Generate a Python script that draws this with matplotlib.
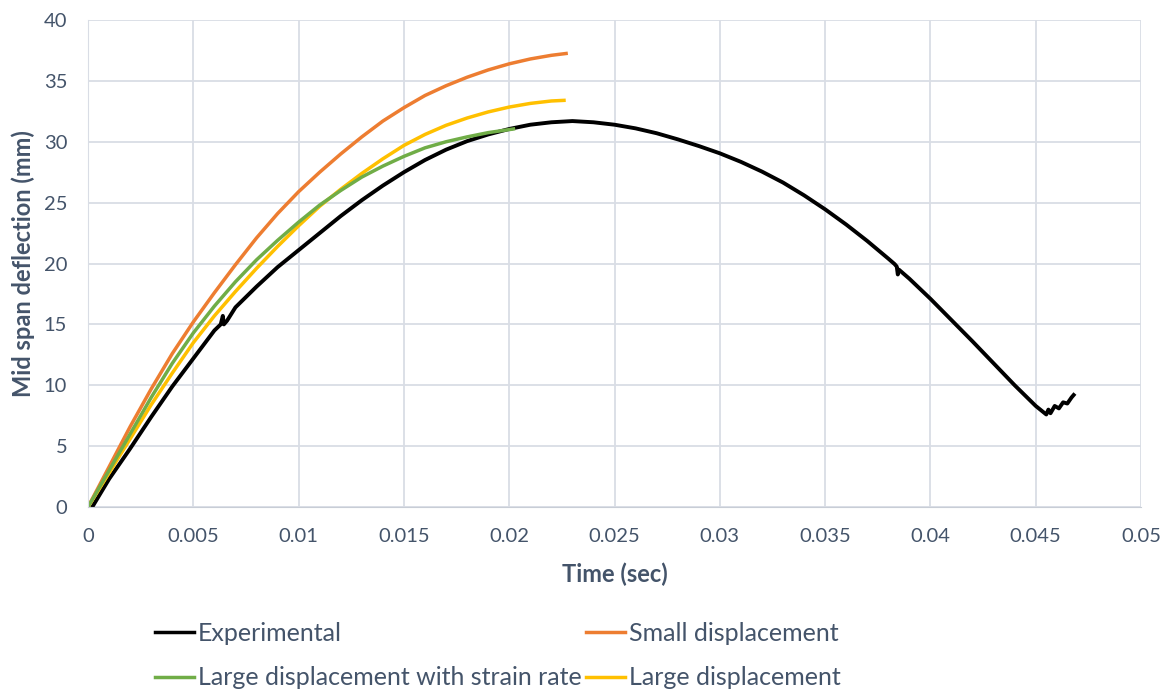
import matplotlib
matplotlib.use("Agg")
import matplotlib.pyplot as plt

# mid span deflection histories (time in s, deflection in mm)
t_exp = [0.0002, 0.001, 0.002, 0.003, 0.004, 0.005, 0.006, 0.0063, 0.0064, 0.00645,
         0.0066, 0.007, 0.008, 0.009, 0.010, 0.011, 0.012, 0.013, 0.014, 0.015,
         0.016, 0.017, 0.018, 0.019, 0.020, 0.021, 0.022, 0.023, 0.024, 0.025,
         0.026, 0.027, 0.028, 0.029, 0.030, 0.031, 0.032, 0.033, 0.034, 0.035,
         0.036, 0.037, 0.038, 0.0383, 0.0384, 0.03845, 0.0385, 0.039, 0.040, 0.041,
         0.042, 0.043, 0.044, 0.045, 0.0455, 0.0456, 0.0457, 0.0459, 0.0461, 0.0463,
         0.0465, 0.0467, 0.0468]
d_exp = [0.0, 2.3, 4.8, 7.4, 9.9, 12.2, 14.5, 15.0, 15.7, 15.0,
         15.3, 16.4, 18.1, 19.7, 21.1, 22.5, 23.9, 25.2, 26.4, 27.5,
         28.5, 29.35, 30.05, 30.6, 31.05, 31.4, 31.6, 31.7, 31.6, 31.4,
         31.1, 30.7, 30.2, 29.65, 29.05, 28.35, 27.55, 26.65, 25.6, 24.45,
         23.2, 21.85, 20.4, 19.95, 19.75, 19.1, 19.5, 18.75, 17.1, 15.35,
         13.6, 11.8, 10.0, 8.3, 7.6, 8.0, 7.7, 8.3, 8.1, 8.6,
         8.5, 9.0, 9.2]

t_small = [0.0, 0.001, 0.002, 0.003, 0.004, 0.005, 0.006, 0.007, 0.008, 0.009,
           0.010, 0.011, 0.012, 0.013, 0.014, 0.015, 0.016, 0.017, 0.018, 0.019,
           0.020, 0.021, 0.022, 0.0227]
d_small = [0.0, 3.3, 6.6, 9.7, 12.6, 15.2, 17.6, 19.9, 22.1, 24.1,
           25.9, 27.5, 29.0, 30.4, 31.7, 32.8, 33.8, 34.6, 35.3, 35.9,
           36.4, 36.8, 37.1, 37.25]

t_large_sr = [0.0, 0.001, 0.002, 0.003, 0.004, 0.005, 0.006, 0.007, 0.008, 0.009,
              0.010, 0.011, 0.012, 0.013, 0.014, 0.015, 0.016, 0.017, 0.018, 0.019,
              0.020, 0.0202]
d_large_sr = [0.0, 3.0, 6.0, 9.0, 11.8, 14.3, 16.5, 18.5, 20.3, 21.9,
              23.4, 24.8, 26.0, 27.1, 28.0, 28.8, 29.5, 30.0, 30.4, 30.75,
              31.0, 31.05]

t_large = [0.0, 0.001, 0.002, 0.003, 0.004, 0.005, 0.006, 0.007, 0.008, 0.009,
           0.010, 0.011, 0.012, 0.013, 0.014, 0.015, 0.016, 0.017, 0.018, 0.019,
           0.020, 0.021, 0.022, 0.0226]
d_large = [0.0, 2.8, 5.6, 8.4, 11.0, 13.5, 15.7, 17.7, 19.6, 21.4,
           23.1, 24.7, 26.1, 27.4, 28.6, 29.7, 30.6, 31.35, 31.95, 32.45,
           32.85, 33.15, 33.35, 33.4]

x_ticks = [0, 0.005, 0.01, 0.015, 0.02, 0.025, 0.03, 0.035, 0.04, 0.045, 0.05]
x_tick_labels = ['0', '0.005', '0.01', '0.015', '0.02', '0.025', '0.03',
                 '0.035', '0.04', '0.045', '0.05']
y_ticks = [0, 5, 10, 15, 20, 25, 30, 35, 40]

plt.rcParams['font.family'] = ['Lato', 'DejaVu Sans']
txt = '#44546A'
grid_c = '#D9DDE5'

fig = plt.figure(figsize=(11.66, 6.9), dpi=100)
ax = fig.add_axes([0.0755, 0.2652, 0.9031, 0.7058])

l_exp, = ax.plot(t_exp, d_exp, color='black', lw=2.8, label='Experimental')
l_small, = ax.plot(t_small, d_small, color='#ED7D31', lw=2.5, label='Small displacement')
l_large, = ax.plot(t_large, d_large, color='#FFC000', lw=2.5, label='Large displacement')
l_sr, = ax.plot(t_large_sr, d_large_sr, color='#70AD47', lw=2.5,
                label='Large displacement with strain rate')

ax.set_xlim(0, 0.05)
ax.set_ylim(0, 40)
ax.set_xticks(x_ticks)
ax.set_xticklabels(x_tick_labels)
ax.set_yticks(y_ticks)
ax.grid(True, color=grid_c, lw=1.3)
ax.set_axisbelow(True)
for s in ['top', 'right']:
    ax.spines[s].set_visible(False)
ax.spines['left'].set_color(grid_c)
ax.spines['bottom'].set_color('#C8CDD6')
ax.tick_params(length=0, colors=txt, labelsize=14.5, pad=15)

ax.set_xlabel('Time (sec)', color=txt, fontsize=17, fontweight='bold', labelpad=13)
ax.set_ylabel('Mid span deflection (mm)', color=txt, fontsize=17, fontweight='bold',
              labelpad=6)

leg = fig.legend(handles=[l_exp, l_sr, l_small, l_large], ncol=2,
                 loc='upper left', bbox_to_anchor=(155 / 1166, 1 - 622 / 690),
                 frameon=False, fontsize=18, borderpad=0, borderaxespad=0,
                 handlelength=1.55, handletextpad=0.15, columnspacing=0.2,
                 labelspacing=0.85, labelcolor=txt)
for h in leg.legend_handles:
    h.set_linewidth(2.5)

fig.savefig('out.png', dpi=100, facecolor='white')
